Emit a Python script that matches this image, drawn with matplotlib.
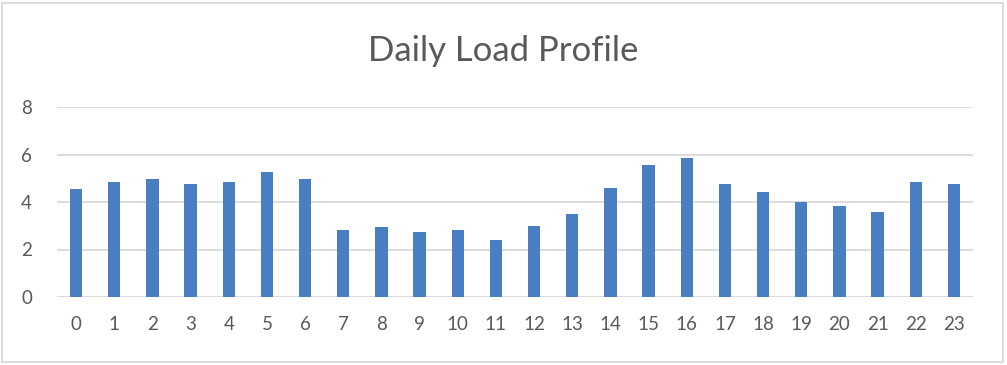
import matplotlib.pyplot as plt
from matplotlib.patches import Rectangle

hours = list(range(24))
load = [4.55, 4.86, 4.97, 4.75, 4.86, 5.25, 4.97, 2.83, 2.94, 2.75, 2.83, 2.39,
        2.97, 3.48, 4.58, 5.56, 5.85, 4.75, 4.44, 3.99, 3.82, 3.59, 4.86, 4.75]
yticks = [0, 2, 4, 6, 8]

plt.rcParams['font.family'] = ['Lato', 'DejaVu Sans']
text_color = '#595959'

fig = plt.figure(figsize=(10.07, 3.65), dpi=100)
ax = fig.add_axes([57 / 1007, 1 - 297 / 365, (973 - 57) / 1007, (297 - 107) / 365])

ax.bar(hours, load, width=0.32, color='#4A7EC2', zorder=3)
ax.set_xlim(-0.5, 23.5)
ax.set_ylim(0, 8)
ax.set_yticks(yticks)
ax.set_xticks(hours)
ax.grid(axis='y', color='#D9D9D9', linewidth=1.3, zorder=0)
for s in ax.spines.values():
    s.set_visible(False)
ax.tick_params(length=0, labelsize=13.5, colors=text_color)
ax.tick_params(axis='x', pad=14)
ax.tick_params(axis='y', pad=18)

fig.text(0.5, 1 - 51 / 365, "Daily Load Profile", ha='center', va='center',
         fontsize=25, color=text_color)

# outer chart border
fig.patches.append(Rectangle((2 / 1007, 3 / 365), 1001 / 1007, 359 / 365,
                             transform=fig.transFigure, fill=False,
                             edgecolor='#D9D9D9', linewidth=1.3))

fig.savefig("out.png", dpi=100)
